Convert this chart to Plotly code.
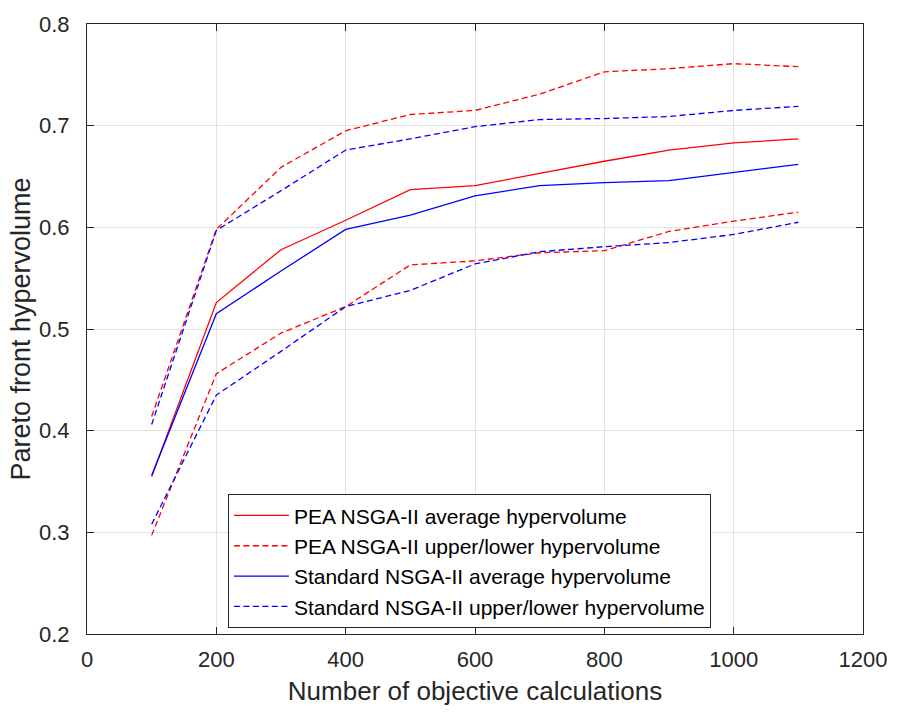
import plotly.graph_objects as go

# Number of objective calculations (x axis)
evaluations = [100, 200, 300, 400, 500, 600, 700, 800, 900, 1000, 1100]

# PEA NSGA-II hypervolume
pea_avg = [0.355, 0.526, 0.578, 0.607, 0.637, 0.641, 0.653, 0.665, 0.676, 0.683, 0.687]
pea_upper = [0.414, 0.598, 0.659, 0.695, 0.711, 0.715, 0.731, 0.753, 0.756, 0.761, 0.758]
pea_lower = [0.297, 0.456, 0.496, 0.522, 0.563, 0.567, 0.575, 0.577, 0.596, 0.606, 0.615]

# Standard NSGA-II hypervolume
std_avg = [0.356, 0.515, 0.557, 0.598, 0.612, 0.631, 0.641, 0.644, 0.646, 0.654, 0.662]
std_upper = [0.406, 0.597, 0.636, 0.676, 0.687, 0.699, 0.706, 0.707, 0.709, 0.715, 0.719]
std_lower = [0.308, 0.435, 0.478, 0.522, 0.538, 0.564, 0.576, 0.581, 0.585, 0.593, 0.605]

RED = "#ff0000"
BLUE = "#0000ff"
DASH = "6px,3.5px"
LW = 1.3
FONT = "Liberation Sans, Arial, Helvetica, sans-serif"
AXIS_COLOR = "#262626"
GRID_COLOR = "#e2e2e2"

fig = go.Figure()

fig.add_trace(go.Scatter(
    x=evaluations, y=pea_avg, mode="lines",
    name="PEA NSGA-II average hypervolume",
    line=dict(color=RED, width=LW),
))
fig.add_trace(go.Scatter(
    x=evaluations, y=pea_upper, mode="lines",
    name="PEA NSGA-II upper/lower hypervolume", legendgroup="pea_bounds",
    line=dict(color=RED, width=LW, dash=DASH),
))
fig.add_trace(go.Scatter(
    x=evaluations, y=pea_lower, mode="lines",
    name="PEA NSGA-II upper/lower hypervolume", legendgroup="pea_bounds",
    showlegend=False,
    line=dict(color=RED, width=LW, dash=DASH),
))
fig.add_trace(go.Scatter(
    x=evaluations, y=std_avg, mode="lines",
    name="Standard NSGA-II average hypervolume",
    line=dict(color=BLUE, width=LW),
))
fig.add_trace(go.Scatter(
    x=evaluations, y=std_upper, mode="lines",
    name="Standard NSGA-II upper/lower hypervolume", legendgroup="std_bounds",
    line=dict(color=BLUE, width=LW, dash=DASH),
))
fig.add_trace(go.Scatter(
    x=evaluations, y=std_lower, mode="lines",
    name="Standard NSGA-II upper/lower hypervolume", legendgroup="std_bounds",
    showlegend=False,
    line=dict(color=BLUE, width=LW, dash=DASH),
))

axis_common = dict(
    showline=True, linecolor=AXIS_COLOR, linewidth=1, mirror="allticks",
    ticks="inside", ticklen=7, tickcolor=AXIS_COLOR, tickwidth=1,
    showgrid=True, gridcolor=GRID_COLOR, gridwidth=1,
    zeroline=False,
)

fig.update_xaxes(
    range=[0, 1200], tickvals=[0, 200, 400, 600, 800, 1000, 1200],
    tickfont=dict(family=FONT, size=22, color=AXIS_COLOR),
    ticklabelstandoff=6,
    title=dict(text="Number of objective calculations",
               font=dict(family=FONT, size=26, color=AXIS_COLOR), standoff=10),
    **axis_common,
)
fig.update_yaxes(
    range=[0.2, 0.8], tickvals=[0.2, 0.3, 0.4, 0.5, 0.6, 0.7, 0.8],
    tickformat=".1f",
    tickfont=dict(family=FONT, size=22, color=AXIS_COLOR),
    ticklabelstandoff=12,
    title=dict(text="Pareto front hypervolume",
               font=dict(family=FONT, size=27, color=AXIS_COLOR), standoff=0),
    **axis_common,
)

fig.update_layout(
    width=899, height=714,
    margin=dict(l=87, r=30, t=19, b=80, pad=0),
    paper_bgcolor="white", plot_bgcolor="white",
    showlegend=True,
    legend=dict(
        x=0.1816, y=0.229, xanchor="left", yanchor="top",
        bgcolor="white", bordercolor=AXIS_COLOR, borderwidth=1,
        font=dict(family=FONT, size=21, color="#000000"),
        itemwidth=55, tracegroupgap=0,
    ),
)

fig.write_html("out.html")
